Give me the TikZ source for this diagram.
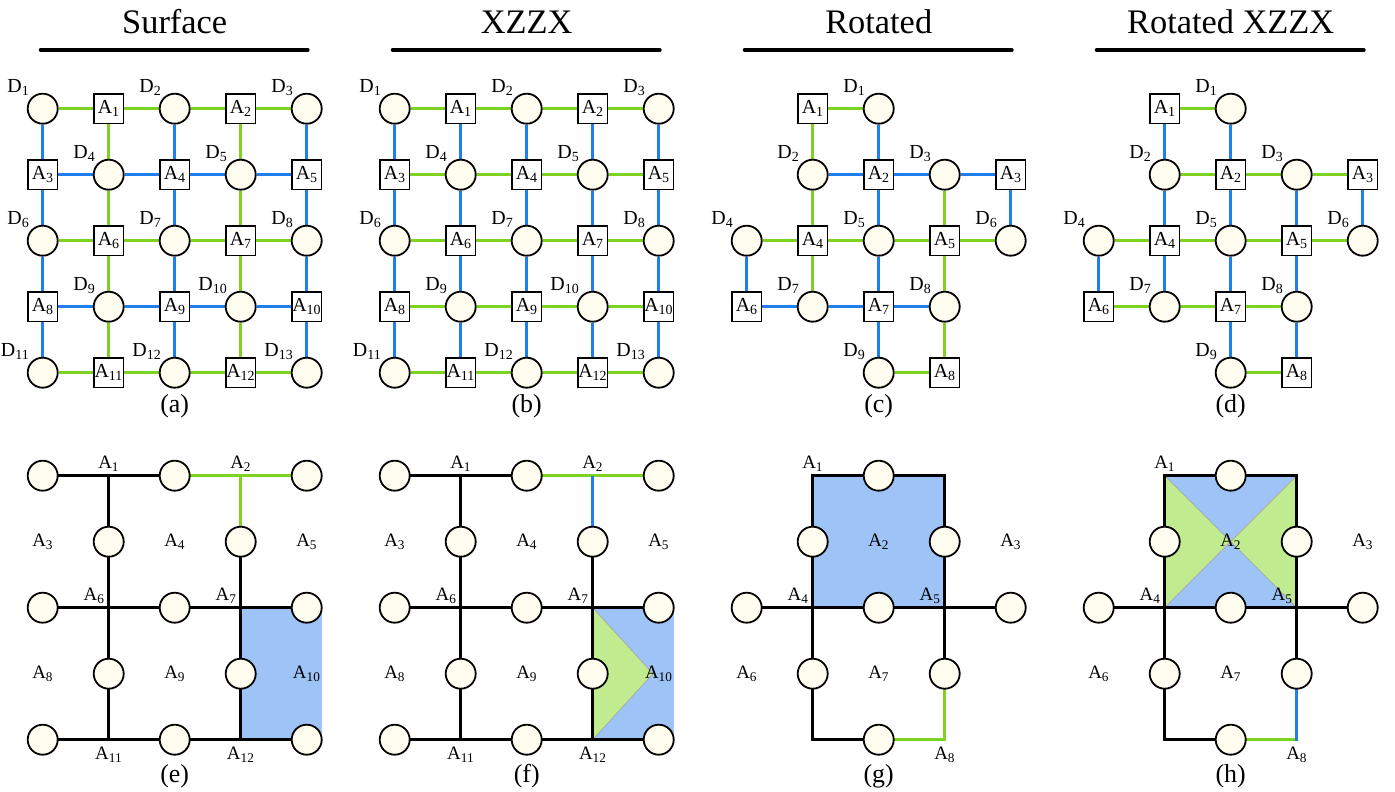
\documentclass[tikz,border=0pt]{standalone}
\usepackage{fontspec}
\setmainfont{Liberation Serif}
\definecolor{xblue}{RGB}{30,128,240}
\definecolor{zgreen}{RGB}{126,211,33}
\definecolor{qfill}{RGB}{255,253,240}
\definecolor{bfill}{RGB}{157,195,247}
\definecolor{gfill}{RGB}{193,235,143}
\pgfdeclarelayer{fills}
\pgfdeclarelayer{edges}
\pgfsetlayers{fills,edges,main}
\newcommand\labfont{\fontsize{20}{23}\selectfont}
\newcommand\blabfont{\fontsize{19}{22}\selectfont}
\newcommand\ttlfont{\fontsize{34.5}{40}\selectfont}
\newcommand\capfont{\fontsize{26}{30}\selectfont}
% top-row node layouts
\newcommand\surfnodes[1]{%
  \foreach \k/\i/\j in {1/0/0,2/2/0,3/4/0,4/1/1,5/3/1,6/0/2,7/2/2,8/4/2,9/1/3,10/3/3,11/0/4,12/2/4,13/4/4}
    {\node[dq, label={[dlab]above left:D\textsubscript{\k}}] (#1-D\k) at (\i,\j) {};}
  \foreach \k/\i/\j in {1/1/0,2/3/0,3/0/1,4/2/1,5/4/1,6/1/2,7/3/2,8/0/3,9/2/3,10/4/3,11/1/4,12/3/4}
    {\node[aq] (#1-A\k) at (\i,\j) {A\textsubscript{\k}};}
}
\newcommand\rotnodes[1]{%
  \foreach \k/\i/\j in {1/2/0,2/1/1,3/3/1,4/0/2,5/2/2,6/4/2,7/1/3,8/3/3,9/2/4}
    {\node[dq, label={[dlab]above left:D\textsubscript{\k}}] (#1-D\k) at (\i,\j) {};}
  \foreach \k/\i/\j in {1/1/0,2/2/1,3/4/1,4/1/2,5/3/2,6/0/3,7/2/3,8/3/4}
    {\node[aq] (#1-A\k) at (\i,\j) {A\textsubscript{\k}};}
}
\newcommand\edgeset[3]{\foreach \u/\v in {#3} {\draw[#2] (#1-\u) -- (#1-\v);}}
% bottom-row layouts
\newcommand\botsurf[1]{%
  \foreach \i/\j in {0/0,2/0,4/0,1/1,3/1,0/2,2/2,4/2,1/3,3/3,0/4,2/4,4/4}
    {\node[dq] (#1-c\i\j) at (\i,\j) {};}
  \foreach \i/\j in {1/0,3/0,1/2,3/2,1/4,3/4} {\coordinate (#1-p\i\j) at (\i,\j);}
  \node[blab, above=4bp] (#1-A1) at (#1-p10) {A\textsubscript{1}};
  \node[blab, above=4bp] (#1-A2) at (#1-p30) {A\textsubscript{2}};
  \node[blab] (#1-A3) at (0,1) {A\textsubscript{3}};
  \node[blab] (#1-A4) at (2,1) {A\textsubscript{4}};
  \node[blab] (#1-A5) at (4,1) {A\textsubscript{5}};
  \node[blab, above left=4bp] (#1-A6) at (#1-p12) {A\textsubscript{6}};
  \node[blab, above left=4bp] (#1-A7) at (#1-p32) {A\textsubscript{7}};
  \node[blab] (#1-A8) at (0,3) {A\textsubscript{8}};
  \node[blab] (#1-A9) at (2,3) {A\textsubscript{9}};
  \node[blab] (#1-A10) at (4,3) {A\textsubscript{10}};
  \node[blab, below=7bp] (#1-A11) at (#1-p14) {A\textsubscript{11}};
  \node[blab, below=7bp] (#1-A12) at (#1-p34) {A\textsubscript{12}};
  \begin{pgfonlayer}{edges}
    \draw[bed] (#1-c00.center) -- (#1-p10) -- (#1-c20.center);
    \draw[zed] (#1-c20.center) -- (#1-p30) -- (#1-c40.center);
    \draw[bed] (#1-p10) -- (#1-c11.center) -- (#1-p12) -- (#1-c13.center) -- (#1-p14);
    \draw[bed] (#1-c31.center) -- (#1-p32) -- (#1-c33.center) -- (#1-p34);
    \draw[bed] (#1-c02.center) -- (#1-p12) -- (#1-c22.center) -- (#1-p32) -- (#1-c42.center);
    \draw[bed] (#1-c04.center) -- (#1-p14) -- (#1-c24.center) -- (#1-p34) -- (#1-c44.center);
  \end{pgfonlayer}
}
\newcommand\botrot[1]{%
  \foreach \i/\j in {2/0,1/1,3/1,0/2,2/2,4/2,1/3,3/3,2/4}
    {\node[dq] (#1-c\i\j) at (\i,\j) {};}
  \foreach \i/\j in {1/0,3/0,1/2,3/2,1/4,3/4,2/1} {\coordinate (#1-p\i\j) at (\i,\j);}
  \node[blab, above=4bp] (#1-A1) at (#1-p10) {A\textsubscript{1}};
  \node[blab] (#1-A2) at (#1-p21) {A\textsubscript{2}};
  \node[blab] (#1-A3) at (4,1) {A\textsubscript{3}};
  \node[blab, above left=4bp] (#1-A4) at (#1-p12) {A\textsubscript{4}};
  \node[blab, above left=4bp] (#1-A5) at (#1-p32) {A\textsubscript{5}};
  \node[blab] (#1-A6) at (0,3) {A\textsubscript{6}};
  \node[blab] (#1-A7) at (2,3) {A\textsubscript{7}};
  \node[blab, below=7bp] (#1-A8) at (#1-p34) {A\textsubscript{8}};
  \begin{pgfonlayer}{edges}
    \draw[bed] (#1-p10) -- (#1-c20.center) -- (#1-p30) -- (#1-c31.center) -- (#1-p32)
       -- (#1-c22.center) -- (#1-p12) -- (#1-c11.center) -- cycle;
    \draw[bed] (#1-c02.center) -- (#1-p12);
    \draw[bed] (#1-p32) -- (#1-c42.center);
    \draw[bed] (#1-p12) -- (#1-c13.center) -- (#1-p14) -- (#1-c24.center);
    \draw[bed] (#1-p32) -- (#1-c33.center);
  \end{pgfonlayer}
}
\begin{document}
\begin{tikzpicture}[x=1bp,y=1bp,
  dq/.style={circle, draw, line width=1.8bp, fill=qfill, minimum size=30bp, inner sep=0pt},
  aq/.style={rectangle, draw, line width=1.8bp, fill=white, minimum size=29.5bp, inner sep=0pt, font=\labfont},
  dlab/.style={font=\labfont, inner sep=2bp},
  blab/.style={font=\blabfont, inner sep=0pt},
  zed/.style={draw=zgreen, line width=3.3bp},
  xed/.style={draw=xblue, line width=3.3bp},
  bed/.style={draw=black, line width=3.3bp, line join=miter},
  ttl/.style={font=\ttlfont, anchor=base, inner sep=0pt},
  capt/.style={font=\capfont, anchor=base, inner sep=0pt},
  uline/.style={line width=4bp, line cap=round}]
\useasboundingbox (0,0) rectangle (1395,791);
% titles and captions
\foreach \X/\t/\c in {42.7/Surface/a, 394.7/XZZX/b, 746.7/Rotated/c, 1098.7/Rotated XZZX/d}
 {\node[ttl] (title-\c) at (\X+132,757.7) {\t};
  \draw[uline] (\X-2,741) -- (\X+265,741);
  \node[capt] (cap-\c) at (\X+132,378) {(\c)};}
\foreach \X/\c in {42.7/e, 394.7/f, 746.7/g, 1098.7/h}
 {\node[capt] (cap-\c) at (\X+132,9) {(\c)};}
% (a) Surface
\begin{scope}[shift={(42.7,682.3)}, x=66bp, y=-66bp]
 \surfnodes{a}
 \begin{pgfonlayer}{edges}
  \edgeset{a}{zed}{D1/A1, A1/D2, D2/A2, A2/D3, D6/A6, A6/D7, D7/A7, A7/D8, D11/A11, A11/D12, D12/A12, A12/D13, A1/D4, D4/A6, A6/D9, D9/A11, A2/D5, D5/A7, A7/D10, D10/A12}
  \edgeset{a}{xed}{A3/D4, D4/A4, A4/D5, D5/A5, A8/D9, D9/A9, A9/D10, D10/A10, D1/A3, A3/D6, D6/A8, A8/D11, D2/A4, A4/D7, D7/A9, A9/D12, D3/A5, A5/D8, D8/A10, A10/D13}
 \end{pgfonlayer}
\end{scope}
% (b) XZZX
\begin{scope}[shift={(394.7,682.3)}, x=66bp, y=-66bp]
 \surfnodes{b}
 \begin{pgfonlayer}{edges}
  \edgeset{b}{zed}{D1/A1, A1/D2, D2/A2, A2/D3, A3/D4, D4/A4, A4/D5, D5/A5, D6/A6, A6/D7, D7/A7, A7/D8, A8/D9, D9/A9, A9/D10, D10/A10, D11/A11, A11/D12, D12/A12, A12/D13}
  \edgeset{b}{xed}{D1/A3, A3/D6, D6/A8, A8/D11, A1/D4, D4/A6, A6/D9, D9/A11, D2/A4, A4/D7, D7/A9, A9/D12, A2/D5, D5/A7, A7/D10, D10/A12, D3/A5, A5/D8, D8/A10, A10/D13}
 \end{pgfonlayer}
\end{scope}
% (c) Rotated
\begin{scope}[shift={(746.7,682.3)}, x=66bp, y=-66bp]
 \rotnodes{c}
 \begin{pgfonlayer}{edges}
  \edgeset{c}{zed}{A1/D1, A1/D2, D2/A4, D3/A5, D4/A4, A4/D5, D5/A5, A5/D6, A4/D7, A5/D8, D8/A8, D9/A8}
  \edgeset{c}{xed}{D1/A2, D2/A2, A2/D3, D3/A3, A2/D5, A3/D6, D4/A6, D5/A7, A6/D7, D7/A7, A7/D8, A7/D9}
 \end{pgfonlayer}
\end{scope}
% (d) Rotated XZZX
\begin{scope}[shift={(1098.7,682.3)}, x=66bp, y=-66bp]
 \rotnodes{d}
 \begin{pgfonlayer}{edges}
  \edgeset{d}{zed}{A1/D1, D2/A2, A2/D3, D3/A3, D4/A4, A4/D5, D5/A5, A5/D6, A6/D7, D7/A7, A7/D8, D9/A8}
  \edgeset{d}{xed}{A1/D2, D1/A2, A2/D5, D2/A4, D3/A5, A3/D6, D4/A6, A4/D7, D5/A7, A5/D8, A7/D9, D8/A8}
 \end{pgfonlayer}
\end{scope}
% (e)
\begin{scope}[shift={(42.7,315.3)}, x=66bp, y=-66bp]
 \botsurf{e}
 \begin{pgfonlayer}{fills}
  \fill[bfill] (3,2) rectangle (4.227,4);
 \end{pgfonlayer}
 \begin{pgfonlayer}{edges}
  \draw[zed] (e-p30) -- (e-c31.center);
 \end{pgfonlayer}
\end{scope}
% (f)
\begin{scope}[shift={(394.7,315.3)}, x=66bp, y=-66bp]
 \botsurf{f}
 \begin{pgfonlayer}{fills}
  \fill[bfill] (3,2) rectangle (4.227,4);
  \filldraw[fill=gfill, draw=black!35, line width=0.7bp] (3,2) -- (3.914,3) -- (3,4) -- cycle;
 \end{pgfonlayer}
 \begin{pgfonlayer}{edges}
  \draw[xed] (f-p30) -- (f-c31.center);
 \end{pgfonlayer}
\end{scope}
% (g)
\begin{scope}[shift={(746.7,315.3)}, x=66bp, y=-66bp]
 \botrot{g}
 \begin{pgfonlayer}{fills}
  \fill[bfill] (g-p10) rectangle (g-p32);
 \end{pgfonlayer}
 \begin{pgfonlayer}{edges}
  \draw[zed, line join=miter] (g-c24.center) -- (g-p34) -- (g-c33.center);
 \end{pgfonlayer}
\end{scope}
% (h)
\begin{scope}[shift={(1098.7,315.3)}, x=66bp, y=-66bp]
 \botrot{h}
 \begin{pgfonlayer}{fills}
  \fill[bfill] (h-p10) -- (h-p30) -- (h-p21) -- cycle;
  \fill[bfill] (h-p12) -- (h-p32) -- (h-p21) -- cycle;
  \fill[gfill] (h-p10) -- (h-p12) -- (h-p21) -- cycle;
  \fill[gfill] (h-p30) -- (h-p32) -- (h-p21) -- cycle;
  \draw[black!35, line width=0.7bp] (h-p10) -- (h-p32) (h-p30) -- (h-p12);
 \end{pgfonlayer}
 \begin{pgfonlayer}{edges}
  \draw[zed] (h-c24.center) -- (h-p34);
  \draw[xed, shorten <=-1.65bp] (h-p34) -- (h-c33.center);
 \end{pgfonlayer}
\end{scope}
\end{tikzpicture}
\end{document}
